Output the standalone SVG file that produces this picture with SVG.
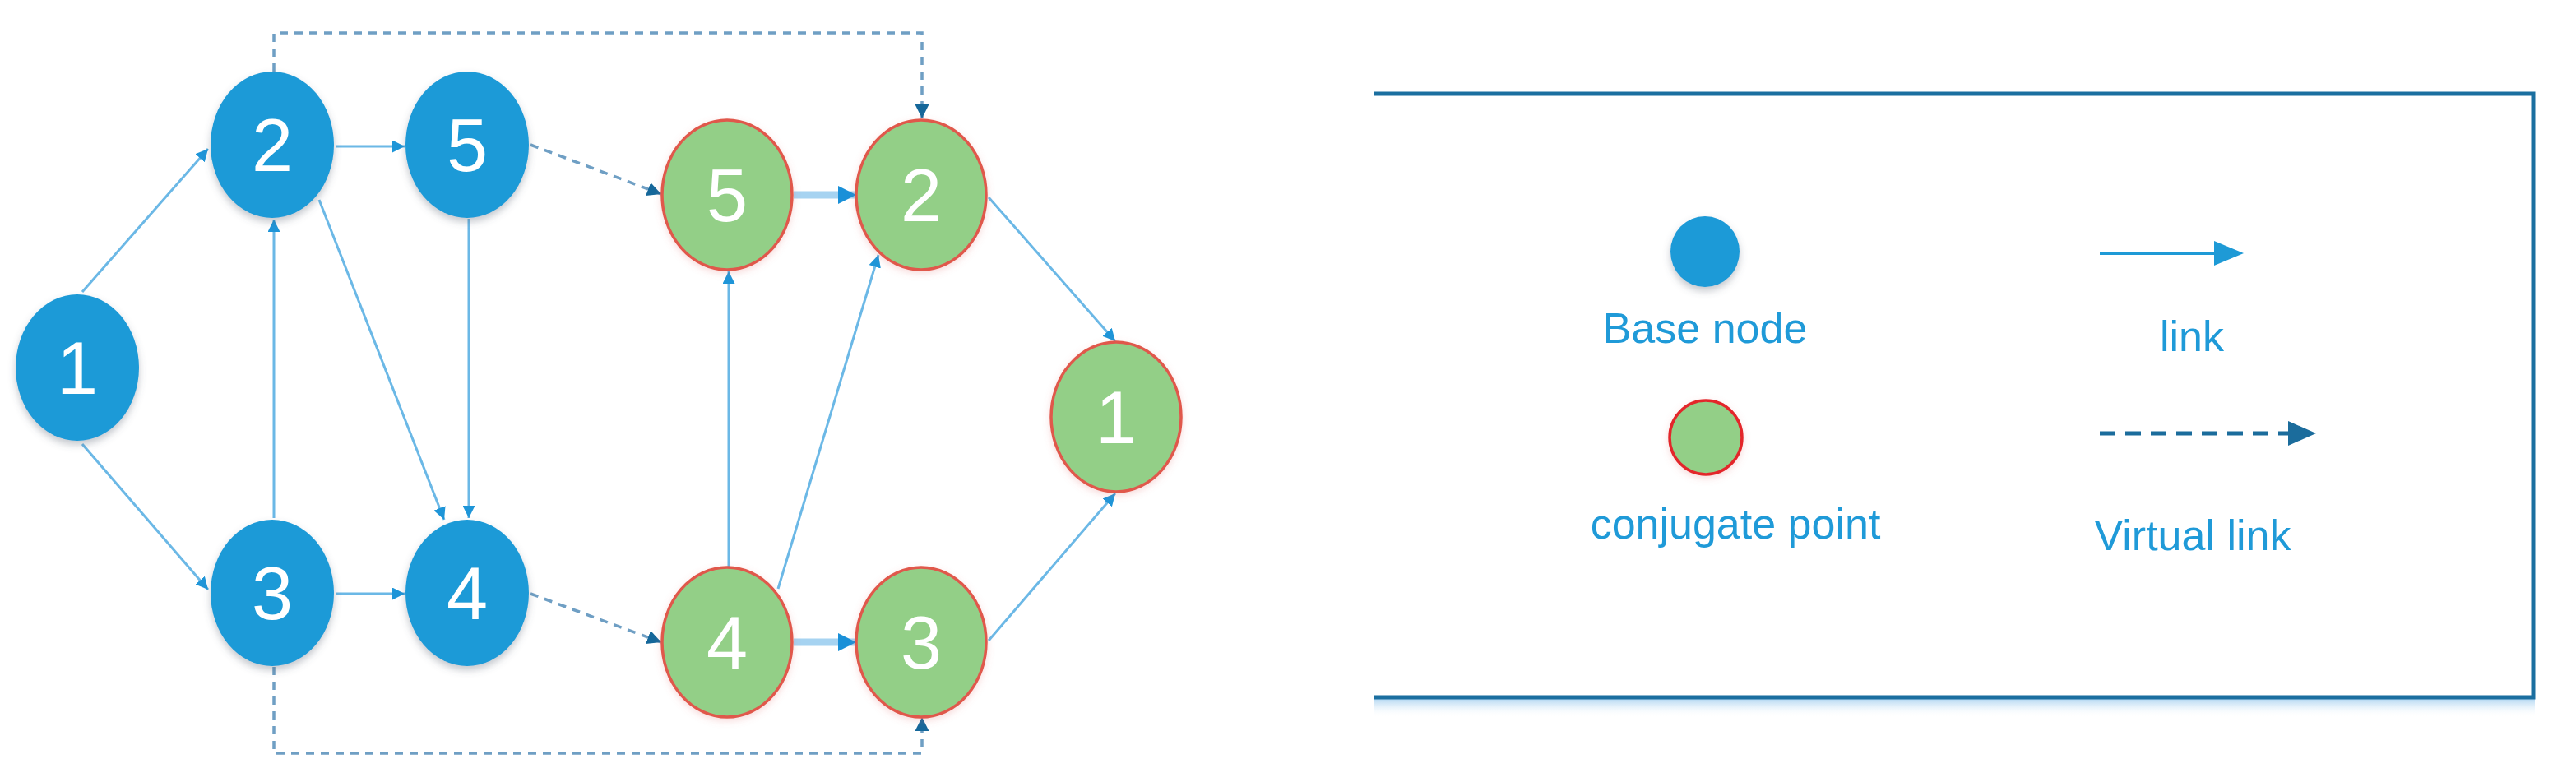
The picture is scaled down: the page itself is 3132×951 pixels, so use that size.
<svg xmlns="http://www.w3.org/2000/svg" width="3132" height="951" viewBox="0 0 3132 951">
<style>
.base{fill:#1b9ad7;}
.conj{fill:#93cf87;stroke:#e0584c;stroke-width:3.5;}
.num{font-family:"Liberation Sans",Arial,sans-serif;font-size:90px;fill:#ffffff;text-anchor:middle;}
.lbl{font-family:"Liberation Sans",Arial,sans-serif;font-size:52px;fill:#1f9ad8;text-anchor:middle;}
.link{stroke:#6bb8e6;stroke-width:3;fill:none;marker-end:url(#ah);}
.thick{stroke:#a6d3f1;stroke-width:9;fill:none;marker-end:url(#ahb);}
.virt{stroke:#6f9fc4;stroke-width:3.5;fill:none;stroke-dasharray:10 8;marker-end:url(#ahd);}
</style>
<defs>
<marker id="ah" viewBox="0 0 10 10" refX="10" refY="5" markerWidth="15" markerHeight="15" markerUnits="userSpaceOnUse" orient="auto"><path d="M0,0 L10,5 L0,10 z" fill="#1e95d8"/></marker>
<marker id="ahb" viewBox="0 0 10 10" refX="10" refY="5" markerWidth="22" markerHeight="22" markerUnits="userSpaceOnUse" orient="auto"><path d="M0,0 L10,5 L0,10 z" fill="#1a90d8"/></marker>
<marker id="ahd" viewBox="0 0 10 10" refX="10" refY="5" markerWidth="17" markerHeight="17" markerUnits="userSpaceOnUse" orient="auto"><path d="M0,0 L10,5 L0,10 z" fill="#15679a"/></marker>
<filter id="sh" x="-30%" y="-30%" width="160%" height="160%"><feDropShadow dx="0" dy="5" stdDeviation="5" flood-color="#556070" flood-opacity="0.35"/></filter>
<filter id="glow" x="-30%" y="-30%" width="160%" height="160%"><feDropShadow dx="0" dy="3" stdDeviation="4" flood-color="#e07070" flood-opacity="0.25"/></filter>
<linearGradient id="bsh" x1="0" y1="0" x2="0" y2="1"><stop offset="0" stop-color="#a9d2f0" stop-opacity="0.9"/><stop offset="1" stop-color="#ffffff" stop-opacity="0"/></linearGradient>
</defs>
<g id="connectors">
<line class="link" x1="100" y1="355" x2="253" y2="181"/>
<line class="link" x1="100" y1="540" x2="253" y2="717"/>
<line class="link" x1="408" y1="178" x2="492" y2="178"/>
<line class="link" x1="408" y1="722" x2="492" y2="722"/>
<line class="link" x1="333" y1="630" x2="333" y2="267"/>
<line class="link" x1="388" y1="243" x2="540" y2="632"/>
<line class="link" x1="570" y1="266" x2="570" y2="630"/>
<line class="virt" x1="645" y1="176" x2="804" y2="236"/>
<line class="virt" x1="645" y1="722" x2="804" y2="781"/>
<line class="thick" x1="965" y1="237" x2="1041" y2="237"/>
<line class="thick" x1="965" y1="781" x2="1041" y2="781"/>
<line class="link" x1="886" y1="690" x2="886" y2="330"/>
<line class="link" x1="946" y1="716" x2="1068" y2="310"/>
<line class="link" x1="1202" y1="240" x2="1356" y2="415"/>
<line class="link" x1="1202" y1="779" x2="1356" y2="600"/>
<path class="virt" d="M333,87 V40 H1121 V144"/>
<path class="virt" d="M333,811 V916 H1121 V872"/>
</g>
<g id="b1"><ellipse class="base" cx="94" cy="447" rx="75" ry="89" filter="url(#sh)"/><text class="num" x="94" y="479">1</text></g>
<g id="b2"><ellipse class="base" cx="331" cy="176" rx="75" ry="89" filter="url(#sh)"/><text class="num" x="331" y="208">2</text></g>
<g id="b5"><ellipse class="base" cx="568" cy="176" rx="75" ry="89" filter="url(#sh)"/><text class="num" x="568" y="208">5</text></g>
<g id="b3"><ellipse class="base" cx="331" cy="721" rx="75" ry="89" filter="url(#sh)"/><text class="num" x="331" y="753">3</text></g>
<g id="b4"><ellipse class="base" cx="568" cy="721" rx="75" ry="89" filter="url(#sh)"/><text class="num" x="568" y="753">4</text></g>
<g id="g5"><ellipse class="conj" cx="884" cy="237" rx="79" ry="91" filter="url(#glow)"/><text class="num" x="884" y="269">5</text></g>
<g id="g2"><ellipse class="conj" cx="1120" cy="237" rx="79" ry="91" filter="url(#glow)"/><text class="num" x="1120" y="269">2</text></g>
<g id="g4"><ellipse class="conj" cx="884" cy="781" rx="79" ry="91" filter="url(#glow)"/><text class="num" x="884" y="813">4</text></g>
<g id="g3"><ellipse class="conj" cx="1120" cy="781" rx="79" ry="91" filter="url(#glow)"/><text class="num" x="1120" y="813">3</text></g>
<g id="g1"><ellipse class="conj" cx="1357" cy="507" rx="79" ry="91" filter="url(#glow)"/><text class="num" x="1357" y="539">1</text></g>
<g id="legend">
<rect x="1670" y="850" width="1412" height="22" fill="url(#bsh)"/>
<path d="M1670,114 H3080 V848 H1670" fill="none" stroke="#1b6fa0" stroke-width="5"/>
<ellipse class="base" cx="2073" cy="306" rx="42" ry="43" filter="url(#sh)"/>
<text class="lbl" x="2073" y="417">Base node</text>
<ellipse cx="2074" cy="532" rx="44" ry="45" fill="#93cf87" stroke="#e3262c" stroke-width="3.5" filter="url(#glow)"/>
<text class="lbl" x="2110" y="655">conjugate point</text>
<line x1="2553" y1="308" x2="2700" y2="308" stroke="#1e9ad6" stroke-width="4"/>
<path d="M2692,293 L2728,308 L2692,323 z" fill="#1e9ad6"/>
<text class="lbl" x="2665" y="427">link</text>
<line x1="2553" y1="527" x2="2786" y2="527" stroke="#1b6c9c" stroke-width="5" stroke-dasharray="19 12"/>
<path d="M2782,512 L2816,527 L2782,542 z" fill="#1b6c9c"/>
<text class="lbl" x="2666" y="669">Virtual link</text>
</g>
</svg>
